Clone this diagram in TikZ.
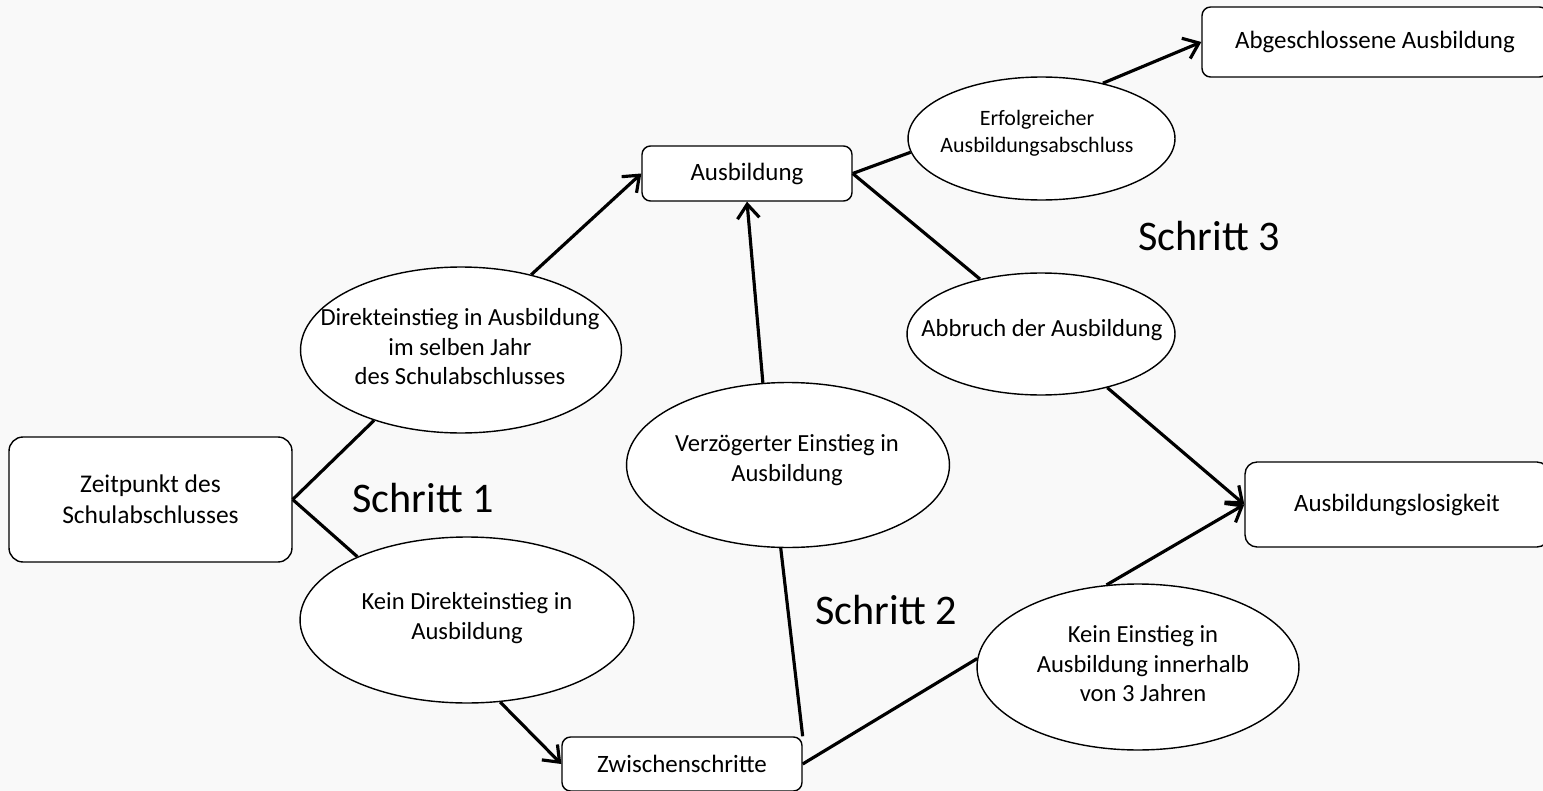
\documentclass[tikz,border=0pt]{standalone}
\usepackage{fontspec}
\setmainfont{Carlito}
\usetikzlibrary{shapes.geometric,arrows.meta}
\definecolor{bggray}{RGB}{249,249,249}

\begin{document}
\begin{tikzpicture}[x=0.02cm, y=-0.02cm,
    box/.style={draw, fill=white, line width=0.8pt, rounded corners=0.17cm, inner sep=0pt,
        align=center, font=\fontsize{14.2}{17}\selectfont},
    oval/.style={draw, fill=white, ellipse, line width=0.8pt, inner sep=0pt},
    txt/.style={align=center, inner sep=0pt, font=\fontsize{14}{16.8}\selectfont},
    schritt/.style={inner sep=0pt, font=\fontsize{24}{28}\selectfont},
    linie/.style={line width=1.8pt},
    pfeil/.style={linie, -{Straight Barb[length=8pt,width=12.5pt]}}]
    % Background
    \useasboundingbox (0,0) rectangle (1543,791);
    \fill[bggray] (0,0) rectangle (1543,791);
    % Boxes
    \node[box, minimum width=5.66cm, minimum height=2.5cm, rounded corners=0.28cm,
        font=\fontsize{14.5}{17.6}\selectfont] (zeit) at (150.5,499.5) {Zeitpunkt des\\Schulabschlusses};
    \node[box, minimum width=4.2cm, minimum height=1.1cm] (ausb) at (747,173.5) {Ausbildung};
    \node[box, minimum width=6.92cm, minimum height=1.4cm] (abg) at (1375,42) {Abgeschlossene Ausbildung};
    \node[box, minimum width=6.08cm, minimum height=1.7cm, rounded corners=0.24cm] (los) at (1397,504.5) {Ausbildungslosigkeit};
    \node[box, minimum width=4.8cm, minimum height=1.08cm] (zwi) at (682,764) {Zwischenschritte};
    % Ellipses
    \node[oval, minimum width=6.42cm, minimum height=3.32cm] (dir) at (461,350) {};
    \node[oval, minimum width=6.68cm, minimum height=3.32cm] (kdir) at (467,620) {};
    \node[oval, minimum width=6.46cm, minimum height=3.3cm] (verz) at (788,465) {};
    \node[oval, minimum width=5.34cm, minimum height=2.46cm] (erf) at (1041.5,138.5) {};
    \node[oval, minimum width=5.36cm, minimum height=2.44cm] (abb) at (1041,334) {};
    \node[oval, minimum width=6.44cm, minimum height=3.32cm] (kein) at (1138,667) {};
    % Texts in the ellipses
    \node[txt] (dirtext) at (460,347) {Direkteinstieg in Ausbildung\\im selben Jahr\\des Schulabschlusses};
    \node[txt] (kdirtext) at (467,618) {Kein Direkteinstieg in\\Ausbildung};
    \node[txt] (verztext) at (787,460) {Verzögerter Einstieg in\\Ausbildung};
    \node[txt, font=\fontsize{12.5}{15.3}\selectfont] (erftext) at (1037,133) {Erfolgreicher\\Ausbildungsabschluss};
    \node[txt] (abbtext) at (1042,330) {Abbruch der Ausbildung};
    \node[txt] (keintext) at (1143,664) {Kein Einstieg in\\Ausbildung innerhalb\\von 3 Jahren};
    % Steps
    \node[schritt] (s1) at (423,498) {Schritt 1};
    \node[schritt] (s2) at (886,610) {Schritt 2};
    \node[schritt] (s3) at (1209,236) {Schritt 3};
    % Connections
    \draw[linie] (zeit.east) -- (dir.219);
    \draw[linie] (zeit.east) -- (kdir.150);
    \draw[pfeil] (dir.47) -- (ausb.west);
    \draw[pfeil] (kdir.292) -- (zwi.west);
    \draw[linie] (zwi.north east) -- (verz.265);
    \draw[pfeil] (verz.107) -- (ausb.south);
    \draw[linie] (zwi.east) -- (kein.177);
    \draw[pfeil] (kein.111) -- (los.west);
    \draw[linie] (ausb.east) -- (abb.138);
    \draw[pfeil] (abb.321) -- (los.west);
    \draw[linie] (ausb.east) -- (erf.186);
    \draw[pfeil] (erf.42) -- (abg.west);
\end{tikzpicture}
\end{document}
